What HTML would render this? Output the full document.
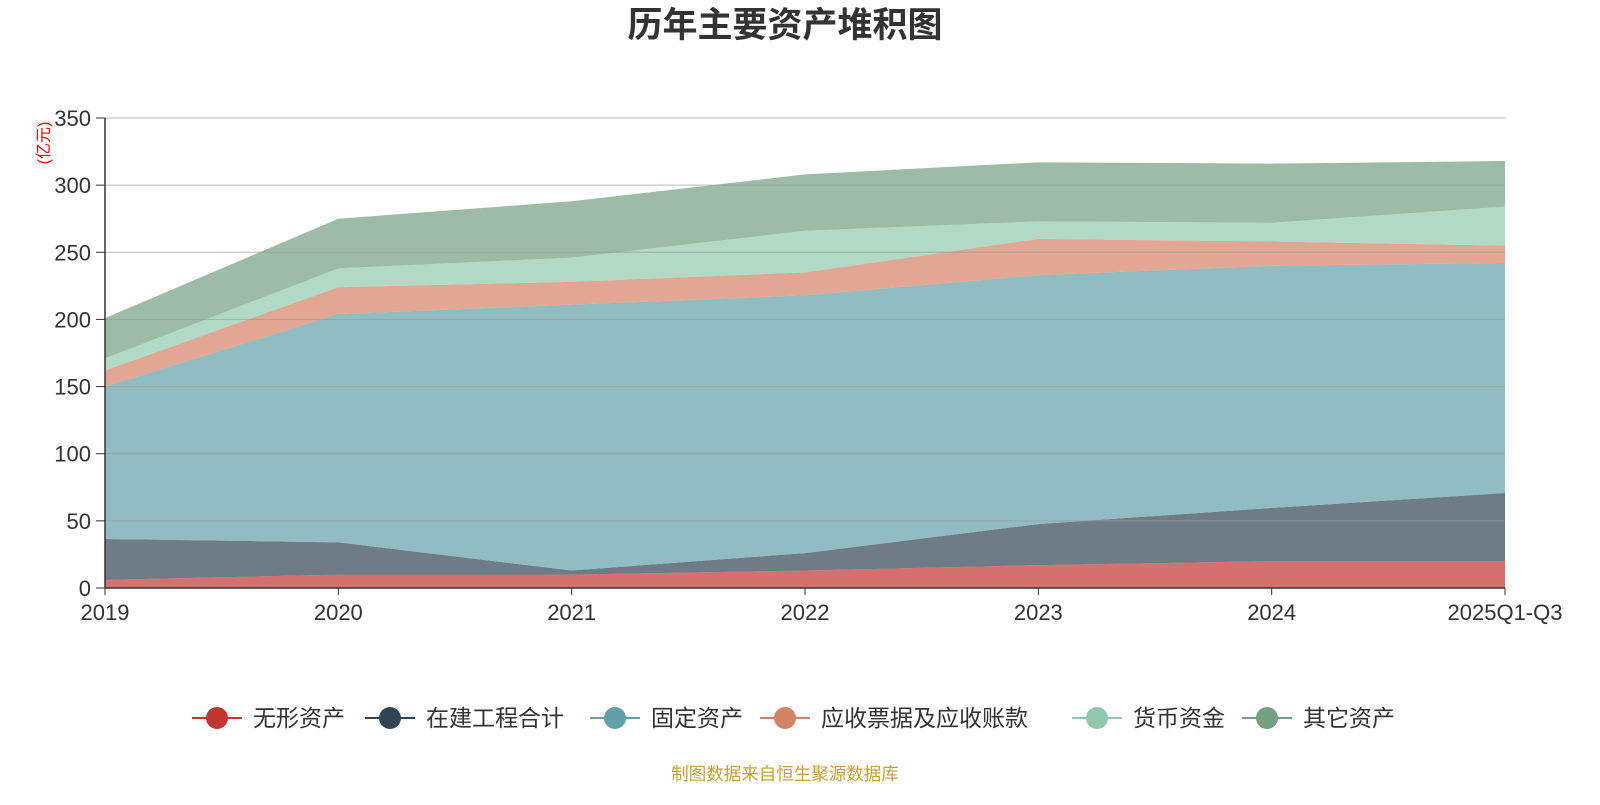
<!DOCTYPE html>
<html><head><meta charset="utf-8"><style>
body{margin:0;background:#fff;width:1600px;height:800px;overflow:hidden}
text{font-family:"Liberation Sans","Noto Sans CJK SC",sans-serif}
</style></head><body>
<svg id="chart" width="1600" height="800" xmlns="http://www.w3.org/2000/svg">
<text x="785" y="37" text-anchor="middle" font-size="35" font-weight="bold" fill="#333">历年主要资产堆积图</text>
<text transform="translate(49,143) rotate(-90)" text-anchor="middle" font-size="16" fill="#ff0000">(亿元)</text>
<g id="areas"></g><g id="grid"></g><g id="axes"></g><g id="legend"></g>
<text x="785" y="780" text-anchor="middle" font-size="17.5" fill="#c9a030">制图数据来自恒生聚源数据库</text>
</svg>
<script>
const categories=["2019","2020","2021","2022","2023","2024","2025Q1-Q3"];
const seriesNames=["无形资产","在建工程合计","固定资产","应收票据及应收账款","货币资金","其它资产"];
const wuxing=[6,10,10,13,17,20,20];
const zaijian=[30.5,24,3,13,30.6,39.6,50.7];
const guding=[113.5,170,198,192,185.4,180.4,171.3];
const yingshou=[12,20,17,17,27,18,13];
const huobi=[9,14,18,31,13,14,29];
const qita=[30,37,42,42,44,44,34];
const yTicks=[0,50,100,150,200,250,300,350];
const colors=["#c23531","#2f4554","#61a0a8","#d48265","#91c7ae","#749f83"];
const series=[wuxing,zaijian,guding,yingshou,huobi,qita];
const NS="http://www.w3.org/2000/svg";
const x0=105,x1=1505,yb=588,yt=118;
const xs=i=>x0+(x1-x0)*i/(categories.length-1);
const ys=v=>yb-(yb-yt)*v/350;
function mk(t,a,p){const e=document.createElementNS(NS,t);for(const k in a)e.setAttribute(k,a[k]);p.appendChild(e);return e;}
const areas=document.getElementById('areas');
let base=categories.map(()=>0);
series.forEach((s,si)=>{
  const top=base.map((b,i)=>b+s[i]);
  let d=top.map((v,i)=>(i?'L':'M')+xs(i)+','+ys(v)).join(' ');
  for(let i=categories.length-1;i>=0;i--)d+=' L'+xs(i)+','+ys(base[i]);
  const p=mk('path',{d:d+'Z',fill:colors[si],'fill-opacity':0.7,stroke:'none'},areas);
  
  
  base=top;
});
const grid=document.getElementById('grid'),axes=document.getElementById('axes');
yTicks.forEach(v=>{
  if(v>0){const l=mk('line',{x1:x0,x2:x1,y1:ys(v),y2:ys(v),stroke:'#999','stroke-opacity':0.55,'stroke-width':1.2},grid);
  
  }
  mk('line',{x1:x0-9,x2:x0,y1:ys(v),y2:ys(v),stroke:'#333'},axes);
  const t=mk('text',{x:x0-14,y:ys(v)+8,'text-anchor':'end','font-size':22,fill:'#333'},axes);t.textContent=v;
  
  
});
mk('line',{x1:x0,x2:x0,y1:yt,y2:yb,stroke:'#333','stroke-width':1.5},axes);
mk('line',{x1:x0,x2:x1,y1:yb,y2:yb,stroke:'#333','stroke-width':1.5},axes);
categories.forEach((c,i)=>{
  mk('line',{x1:xs(i),x2:xs(i),y1:yb,y2:yb+7,stroke:'#333'},axes);
  const t=mk('text',{x:xs(i),y:yb+32,'text-anchor':'middle','font-size':22,fill:'#333'},axes);t.textContent=c;
  
  
});
const legend=document.getElementById('legend');
const lx=[192,365,590,760,1072,1242];
seriesNames.forEach((n,i)=>{
  const g=mk('g',{},legend);
  
  
  mk('line',{x1:lx[i],x2:lx[i]+50,y1:718,y2:718,stroke:colors[i],'stroke-width':2},g);
  mk('circle',{cx:lx[i]+25,cy:718,r:11,fill:colors[i]},g);
  const t=mk('text',{x:lx[i]+61,y:726,'font-size':23,fill:'#333'},g);t.textContent=n;
});
</script>
</body></html>
